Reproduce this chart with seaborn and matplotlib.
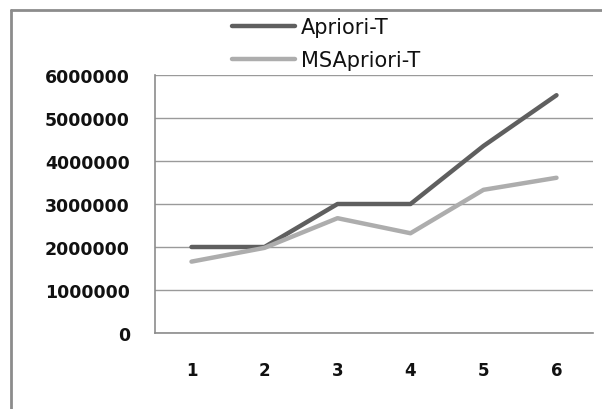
import matplotlib
matplotlib.use("Agg")
import matplotlib.pyplot as plt
from matplotlib.lines import Line2D
import seaborn as sns
import pandas as pd
import numpy as np

categories = ["1", "2", "3", "4", "5", "6"]
apriori_t = [2000000, 2000000, 3000000, 3000000, 4350000, 5530000]
msapriori_t = [1660000, 1980000, 2670000, 2320000, 3330000, 3610000]
y_ticks = [0, 1000000, 2000000, 3000000, 4000000, 5000000, 6000000]
series_names = ["Apriori-T", "MSApriori-T"]

sns.set_theme(style="white")
plt.rcParams["font.family"] = ["DejaVu Sans"]

df = pd.DataFrame({
    "x": list(range(len(categories))) * 2,
    "value": apriori_t + msapriori_t,
    "series": [series_names[0]] * len(categories) + [series_names[1]] * len(categories),
})

W, H = 602, 410
fig = plt.figure(figsize=(W / 100, H / 100), dpi=100)
ax = fig.add_axes([155 / W, 1 - 334 / H, (593 - 155) / W, (334 - 76) / H])

palette = {"Apriori-T": "#5f5f5f", "MSApriori-T": "#adadad"}
sns.lineplot(data=df, x="x", y="value", hue="series", palette=palette,
             linewidth=3.2, ax=ax, legend=False, zorder=3)

ax.set_xlim(-0.5, len(categories) - 0.5)
ax.set_ylim(0, 6000000)
ax.set_yticks(y_ticks)
ax.set_yticklabels([str(v) for v in y_ticks], fontweight="bold", fontsize=12.5, color="#111111")
ax.set_xticks(range(len(categories)))
ax.set_xticklabels(categories, fontweight="bold", fontsize=12, color="#111111")
ax.set_xlabel("")
ax.set_ylabel("")

# category boundary ticks on the x axis
ax.set_xticks(np.arange(-0.5, len(categories), 1.0), minor=True)
ax.tick_params(axis="x", which="major", length=0, pad=20)
ax.tick_params(axis="x", which="minor", length=5, width=1, color="#8c8c8c", direction="out")
ax.tick_params(axis="y", which="major", length=9.5, width=1, color="#8c8c8c", direction="out", pad=8.5)

ax.yaxis.grid(True, color="#9a9a9a", linewidth=1)
ax.set_axisbelow(True)
for side in ("top", "right"):
    ax.spines[side].set_visible(False)
for side in ("left", "bottom"):
    ax.spines[side].set_color("#8c8c8c")
    ax.spines[side].set_linewidth(1.2)

handles = [Line2D([], [], color=palette[s], linewidth=3.2) for s in series_names]
fig.legend(handles, series_names, loc="center",
           bbox_to_anchor=(326 / W, 1 - 44.5 / H), frameon=False, fontsize=15,
           handlelength=3.0, handletextpad=0.3, labelspacing=0.62,
           labelcolor="#111111")

# outer chart frame (top and left edges)
frame_kw = dict(transform=fig.transFigure, color="#8c8c8c", linewidth=2)
fig.add_artist(Line2D([11 / W, 1.0], [1 - 11 / H, 1 - 11 / H], **frame_kw))
fig.add_artist(Line2D([11 / W, 11 / W], [0.0, 1 - 11 / H], **frame_kw))

fig.savefig("out.png", dpi=100)
